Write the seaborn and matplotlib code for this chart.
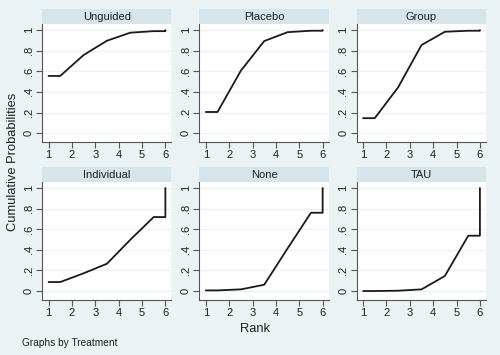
import numpy as np
import pandas as pd
import seaborn as sns
import matplotlib.pyplot as plt
from matplotlib.patches import Rectangle

# dati: probabilita' cumulative per rango (1..6) per ogni trattamento
treatments = ["Unguided", "Placebo", "Group", "Individual", "None", "TAU"]
ranks = [1, 2, 3, 4, 5, 6]
cum_unguided = [0.555, 0.758, 0.897, 0.975, 0.990, 1.0]
cum_placebo = [0.205, 0.606, 0.894, 0.980, 0.994, 1.0]
cum_group = [0.145, 0.445, 0.855, 0.984, 0.994, 1.0]
cum_individual = [0.087, 0.172, 0.265, 0.498, 0.718, 1.0]
cum_none = [0.006, 0.016, 0.061, 0.414, 0.760, 1.0]
cum_tau = [0.0, 0.003, 0.016, 0.146, 0.537, 1.0]
cum_all = [cum_unguided, cum_placebo, cum_group, cum_individual, cum_none, cum_tau]

ytick_vals = [0, 0.2, 0.4, 0.6, 0.8, 1.0]
ytick_labels = ["0", ".2", ".4", ".6", ".8", "1"]

# percorso della curva (stile Stata): piatto 1-1.5, punti medi, gradino finale a 6
rows = []
for t, cum in zip(treatments, cum_all):
    xs = [ranks[0], ranks[0] + 0.5] + [r + 0.5 for r in ranks[1:-1]] + [ranks[-1], ranks[-1]]
    ys = [cum[0], cum[0]] + cum[1:-1] + [cum[-2], cum[-1]]
    for i, (x, y) in enumerate(zip(xs, ys)):
        rows.append({"Treatment": t, "Rank": x, "Prob": y, "order": i})
df = pd.DataFrame(rows)

bg = "#EAF2F3"
strip = "#D6E5EB"
txt = "#1e1e1e"
sns.set_style("white")
plt.rcParams["font.family"] = ["Liberation Sans", "DejaVu Sans"]

g = sns.relplot(data=df, x="Rank", y="Prob", col="Treatment", col_wrap=3,
                kind="line", sort=False, estimator=None, color="#1a1a1a",
                linewidth=1.3, col_order=treatments, facet_kws=dict(sharex=True, sharey=True))
g.figure.set_size_inches(5, 3.55)
g.figure.set_facecolor(bg)
g.figure.subplots_adjust(left=0.084, right=0.972, top=0.932, bottom=0.155,
                         wspace=0.215, hspace=0.339)

for ax, t in zip(g.axes.flat, treatments):
    ax.set_facecolor("white")
    ax.set_xlim(0.72, 6.26)
    ax.set_ylim(-0.087, 1.058)
    ax.set_xticks(ranks)
    ax.set_xticklabels([str(r) for r in ranks], fontsize=8, color=txt)
    ax.set_yticks(ytick_vals)
    ax.set_yticklabels(ytick_labels, fontsize=8, rotation=90, va="center", color=txt)
    ax.tick_params(axis="both", direction="out", length=4, width=0.8, color="#555555",
                   bottom=True, left=True, labelbottom=True, labelleft=True, pad=2)
    ax.grid(axis="y", color=bg, linewidth=0.9)
    ax.set_axisbelow(True)
    for s in ["top", "right"]:
        ax.spines[s].set_visible(False)
    for s in ["left", "bottom"]:
        ax.spines[s].set_color("#555555")
        ax.spines[s].set_linewidth(0.8)
    ax.set_title("")
    ax.set_xlabel("")
    ax.set_ylabel("")
    ax.add_patch(Rectangle((0, 1.0), 1, 0.127, transform=ax.transAxes,
                           facecolor=strip, edgecolor="none", clip_on=False))
    ax.text(0.5, 1.063, t, transform=ax.transAxes, ha="center", va="center",
            fontsize=8, color=txt)

g.figure.text(0.026, 0.544, "Cumulative Probabilities", rotation=90, ha="center",
              va="center", fontsize=9.3, color=txt)
g.figure.text(0.51, 0.072, "Rank", ha="center", va="center", fontsize=9.3, color=txt)
g.figure.text(0.044, 0.034, "Graphs by Treatment", ha="left", va="center",
              fontsize=7.3, color=txt)

g.figure.savefig("out.png", dpi=100, facecolor=bg)
